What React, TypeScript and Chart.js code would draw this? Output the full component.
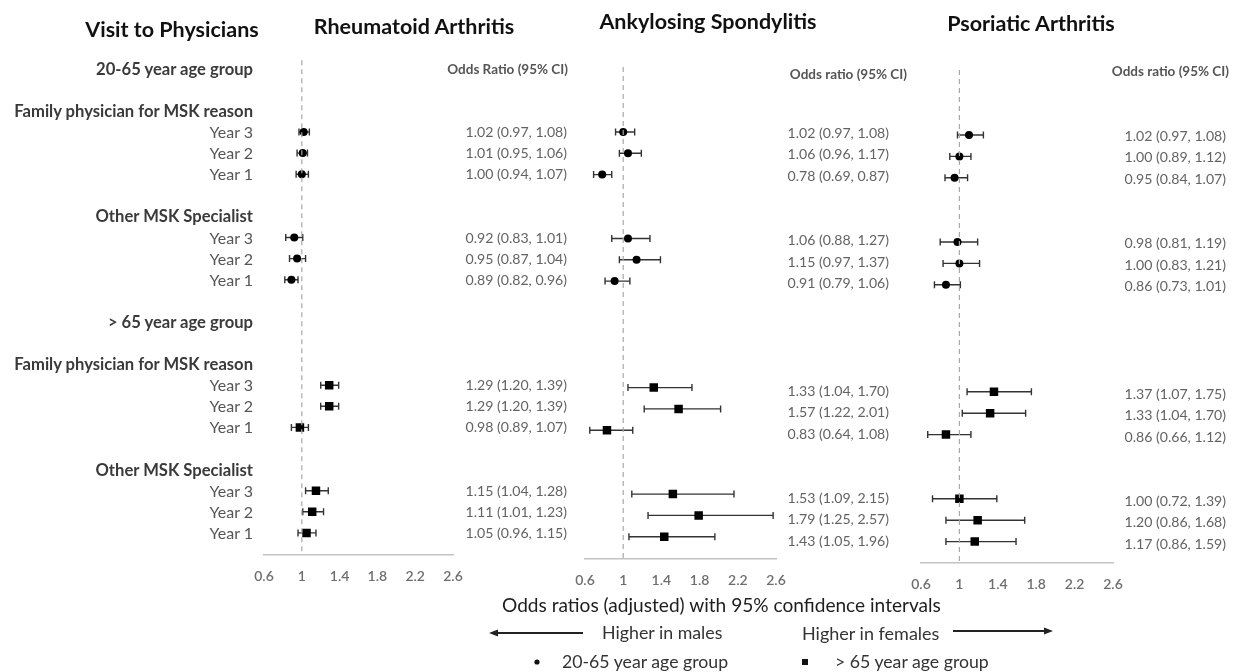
import React, { useEffect, useRef } from "react";
import { Chart, registerables } from "chart.js";

Chart.register(...registerables);

// ---------------- DATA ----------------
const xTicks = [0.6, 1, 1.4, 1.8, 2.2, 2.6];
const years = ["Year 3", "Year 2", "Year 1"];

// rows (vertical slots) for each estimate
const youngRows = [3, 4, 5, 8, 9, 10];
const oldRows = [15, 16, 17, 20, 21, 22];

// Rheumatoid Arthritis
const raYoungOR = [1.02, 1.01, 1.0, 0.92, 0.95, 0.89];
const raYoungLo = [0.97, 0.95, 0.94, 0.83, 0.87, 0.82];
const raYoungHi = [1.08, 1.06, 1.07, 1.01, 1.04, 0.96];
const raOldOR = [1.29, 1.29, 0.98, 1.15, 1.11, 1.05];
const raOldLo = [1.2, 1.2, 0.89, 1.04, 1.01, 0.96];
const raOldHi = [1.39, 1.39, 1.07, 1.28, 1.23, 1.15];
const raLabels = [
  "1.02 (0.97, 1.08)", "1.01 (0.95, 1.06)", "1.00 (0.94, 1.07)",
  "0.92 (0.83, 1.01)", "0.95 (0.87, 1.04)", "0.89 (0.82, 0.96)",
  "1.29 (1.20, 1.39)", "1.29 (1.20, 1.39)", "0.98 (0.89, 1.07)",
  "1.15 (1.04, 1.28)", "1.11 (1.01, 1.23)", "1.05 (0.96, 1.15)",
];

// Ankylosing Spondylitis
const asYoungOR = [1.0, 1.05, 0.78, 1.05, 1.14, 0.91];
const asYoungLo = [0.92, 0.96, 0.69, 0.88, 0.96, 0.81];
const asYoungHi = [1.12, 1.19, 0.88, 1.28, 1.39, 1.07];
const asOldOR = [1.32, 1.58, 0.83, 1.52, 1.79, 1.43];
const asOldLo = [1.05, 1.22, 0.65, 1.09, 1.26, 1.06];
const asOldHi = [1.72, 2.02, 1.1, 2.16, 2.57, 1.96];
const asLabels = [
  "1.02 (0.97, 1.08)", "1.06 (0.96, 1.17)", "0.78 (0.69, 0.87)",
  "1.06 (0.88, 1.27)", "1.15 (0.97, 1.37)", "0.91 (0.79, 1.06)",
  "1.33 (1.04, 1.70)", "1.57 (1.22, 2.01)", "0.83 (0.64, 1.08)",
  "1.53 (1.09, 2.15)", "1.79 (1.25, 2.57)", "1.43 (1.05, 1.96)",
];

// Psoriatic Arthritis
const psYoungOR = [1.1, 1.0, 0.95, 0.98, 1.0, 0.86];
const psYoungLo = [0.98, 0.9, 0.85, 0.8, 0.83, 0.74];
const psYoungHi = [1.25, 1.12, 1.085, 1.19, 1.21, 1.01];
const psOldOR = [1.36, 1.32, 0.86, 1.0, 1.19, 1.16];
const psOldLo = [1.08, 1.03, 0.67, 0.72, 0.86, 0.86];
const psOldHi = [1.75, 1.69, 1.12, 1.39, 1.68, 1.59];
const psLabels = [
  "1.02 (0.97, 1.08)", "1.00 (0.89, 1.12)", "0.95 (0.84, 1.07)",
  "0.98 (0.81, 1.19)", "1.00 (0.83, 1.21)", "0.86 (0.73, 1.01)",
  "1.37 (1.07, 1.75)", "1.33 (1.04, 1.70)", "0.86 (0.66, 1.12)",
  "1.00 (0.72, 1.39)", "1.20 (0.86, 1.68)", "1.17 (0.86, 1.59)",
];

const leftText = [
  "20-65 year age group", "Family physician for MSK reason", ...years,
  "Other MSK Specialist", ...years,
  "> 65 year age group", "Family physician for MSK reason", ...years,
  "Other MSK Specialist", ...years,
];
const leftRows = [0, 2, 3, 4, 5, 7, 8, 9, 10, 12, 14, 15, 16, 17, 19, 20, 21, 22];

const titles = ["Visit to Physicians", "Rheumatoid Arthritis", "Ankylosing Spondylitis", "Psoriatic Arthritis"];
const orHeaders = ["Odds Ratio (95% CI)", "Odds ratio (95% CI)", "Odds ratio (95% CI)"];
const xAxisTitle = "Odds ratios (adjusted) with 95% confidence intervals";
const directionText = ["Higher in males", "Higher in females"];
const legendText = ["20-65 year age group", "> 65 year age group"];

// ---------------- LAYOUT ----------------
const W = 1236;
const H = 672;
const X_AXIS_H = 40;
const FONT = "Lato, Carlito, 'Open Sans', sans-serif";

type Panel = {
  xLeft: number; xRight: number; y3: number; step: number; axisY: number; dashTop: number;
  labelRight: number; labelY3: number; labelStep: number; headerRight: number; headerY: number;
  young: number[]; youngLo: number[]; youngHi: number[];
  old: number[]; oldLo: number[]; oldHi: number[];
  labels: string[]; header: string;
};

const panels: Panel[] = [
  {
    xLeft: 264, xRight: 453, y3: 132, step: 21.1, axisY: 555, dashTop: -0.4,
    labelRight: 567, labelY3: 132, labelStep: 21.1, headerRight: 568, headerY: 70,
    young: raYoungOR, youngLo: raYoungLo, youngHi: raYoungHi,
    old: raOldOR, oldLo: raOldLo, oldHi: raOldHi, labels: raLabels, header: orHeaders[0],
  },
  {
    xLeft: 585, xRight: 776, y3: 132, step: 21.3, axisY: 559, dashTop: -0.05,
    labelRight: 889, labelY3: 133, labelStep: 21.47, headerRight: 907, headerY: 75,
    young: asYoungOR, youngLo: asYoungLo, youngHi: asYoungHi,
    old: asOldOR, oldLo: asOldLo, oldHi: asOldHi, labels: asLabels, header: orHeaders[1],
  },
  {
    xLeft: 921, xRight: 1113, y3: 135, step: 21.4, axisY: 563, dashTop: -0.04,
    labelRight: 1226, labelY3: 136, labelStep: 21.47, headerRight: 1229, headerY: 72,
    young: psYoungOR, youngLo: psYoungLo, youngHi: psYoungHi,
    old: psOldOR, oldLo: psOldLo, oldHi: psOldHi, labels: psLabels, header: orHeaders[2],
  },
];

const errorBarPlugin = {
  id: "errorBars",
  beforeDatasetsDraw(chart: any) {
    const { ctx } = chart;
    const xs = chart.scales.x;
    const ys = chart.scales.y;
    chart.data.datasets.forEach((ds: any) => {
      if (!ds.ciLo) return;
      ds.data.forEach((pt: any, i: number) => {
        const x1 = xs.getPixelForValue(ds.ciLo[i]);
        const x2 = xs.getPixelForValue(ds.ciHi[i]);
        const y = ys.getPixelForValue(pt.y);
        ctx.save();
        ctx.strokeStyle = "#333";
        ctx.lineWidth = 1.4;
        ctx.beginPath();
        ctx.moveTo(x1, y);
        ctx.lineTo(x2, y);
        ctx.moveTo(x1, y - 3.5);
        ctx.lineTo(x1, y + 3.5);
        ctx.moveTo(x2, y - 3.5);
        ctx.lineTo(x2, y + 3.5);
        ctx.stroke();
        ctx.restore();
      });
    });
  },
};

function makeChart(canvas: HTMLCanvasElement, p: Panel) {
  const yMax = 3 + (p.axisY - p.y3) / p.step;
  const topPx = p.y3 - 4 * p.step;
  return new Chart(canvas, {
    type: "scatter",
    data: {
      datasets: [
        {
          type: "line",
          data: [{ x: 1, y: p.dashTop }, { x: 1, y: yMax }],
          borderColor: "#a8a8a8",
          borderWidth: 1.2,
          borderDash: [5, 4],
          pointRadius: 0,
          fill: false,
        } as any,
        {
          data: youngRows.map((r, i) => ({ x: p.young[i], y: r })),
          ciLo: p.youngLo,
          ciHi: p.youngHi,
          pointStyle: "circle",
          pointRadius: 4,
          backgroundColor: "#000",
          borderColor: "#000",
          borderWidth: 0,
        } as any,
        {
          data: oldRows.map((r, i) => ({ x: p.old[i], y: r })),
          ciLo: p.oldLo,
          ciHi: p.oldHi,
          pointStyle: "rect",
          pointRadius: 6,
          backgroundColor: "#000",
          borderColor: "#000",
          borderWidth: 0,
        } as any,
      ],
    },
    options: {
      responsive: false,
      animation: false,
      events: [],
      layout: {
        padding: { left: p.xLeft, right: W - p.xRight, top: topPx, bottom: H - p.axisY - X_AXIS_H },
      },
      plugins: { legend: { display: false }, tooltip: { enabled: false } },
      scales: {
        x: {
          type: "linear",
          min: 0.6,
          max: 2.6,
          afterBuildTicks: (s: any) => {
            s.ticks = xTicks.map((v) => ({ value: v }));
          },
          afterFit: (s: any) => {
            s.height = X_AXIS_H;
          },
          ticks: {
            padding: 13,
            color: "#6e6e6e",
            font: { family: FONT, size: 14, weight: "600" },
            callback: (v: any) => String(Number(Number(v).toFixed(1))),
          },
          grid: { display: false, drawTicks: false },
          border: { display: true, color: "#c4c4c4", width: 1.5 },
        },
        y: { type: "linear", display: false, reverse: true, min: -1, max: yMax },
      },
    },
    plugins: [errorBarPlugin],
  } as any);
}

const abs = (extra: React.CSSProperties): React.CSSProperties => ({
  position: "absolute",
  whiteSpace: "nowrap",
  lineHeight: 1,
  fontFamily: FONT,
  ...extra,
});

export default function App() {
  const refs = [useRef<HTMLCanvasElement>(null), useRef<HTMLCanvasElement>(null), useRef<HTMLCanvasElement>(null)];

  useEffect(() => {
    const charts = panels.map((p, i) => makeChart(refs[i].current as HTMLCanvasElement, p));
    return () => charts.forEach((c) => c.destroy());
  }, []);

  const ra = panels[0];
  const rowPx = (p: Panel, r: number) => p.labelY3 + (r - 3) * p.labelStep;
  const allRows = [...youngRows, ...oldRows];

  return (
    <div style={{ position: "absolute", left: 0, top: 0, width: W, height: H, overflow: "hidden", background: "#fff" }}>
      {refs.map((r, i) => (
        <canvas key={i} ref={r} width={W} height={H} style={{ position: "absolute", left: 0, top: 0 }} />
      ))}

      {/* titles */}
      {[
        [172, 30],
        [414, 27],
        [708, 22],
        [1031, 24],
      ].map(([cx, cy], i) => (
        <div key={"t" + i} style={abs({ left: cx, top: cy, transform: "translate(-50%,-50%)", fontSize: 21.5, fontWeight: 700, color: "#111" })}>
          {titles[i]}
        </div>
      ))}

      {/* left labels */}
      {leftText.map((t, i) => {
        const isYear = t.startsWith("Year");
        return (
          <div
            key={"l" + i}
            style={abs({
              right: W - 253,
              top: rowPx(ra, leftRows[i]),
              transform: "translateY(-50%)",
              fontSize: isYear ? 16 : 16.6,
              fontWeight: isYear ? 400 : 700,
              color: isYear ? "#555" : "#3a3a3a",
            })}
          >
            {t}
          </div>
        );
      })}

      {/* OR text columns */}
      {panels.map((p, pi) => (
        <React.Fragment key={"p" + pi}>
          <div style={abs({ right: W - p.headerRight, top: p.headerY, transform: "translateY(-50%)", fontSize: 13.5, fontWeight: 700, color: "#555" })}>
            {p.header}
          </div>
          {p.labels.map((t, i) => (
            <div key={i} style={abs({ right: W - p.labelRight, top: rowPx(p, allRows[i]), transform: "translateY(-50%)", fontSize: 14.1, color: "#636363" })}>
              {t}
            </div>
          ))}
        </React.Fragment>
      ))}

      {/* bottom captions */}
      <div style={abs({ left: 502, top: 605, transform: "translateY(-50%)", fontSize: 19.1, color: "#1e1e1e" })}>{xAxisTitle}</div>
      <div style={abs({ left: 602, top: 633, transform: "translateY(-50%)", fontSize: 17.8, color: "#333" })}>{directionText[0]}</div>
      <div style={abs({ left: 802, top: 633, transform: "translateY(-50%)", fontSize: 18, color: "#333" })}>{directionText[1]}</div>
      <div style={abs({ left: 562, top: 662, transform: "translateY(-50%)", fontSize: 17.7, color: "#333" })}>{legendText[0]}</div>
      <div style={abs({ left: 835, top: 662, transform: "translateY(-50%)", fontSize: 17.7, color: "#333" })}>{legendText[1]}</div>

      <svg width={W} height={H} style={{ position: "absolute", left: 0, top: 0, pointerEvents: "none" }}>
        <line x1={496} y1={633} x2={583} y2={633} stroke="#222" strokeWidth={1.8} />
        <polygon points="489,633 498,629.5 498,636.5" fill="#222" />
        <line x1={953} y1={631} x2={1045} y2={631} stroke="#222" strokeWidth={1.8} />
        <polygon points="1053,631 1044,627.5 1044,634.5" fill="#222" />
        <circle cx={537} cy={662} r={2.6} fill="#111" />
        <rect x={802} y={659} width={6} height={6} fill="#111" />
      </svg>
    </div>
  );
}
